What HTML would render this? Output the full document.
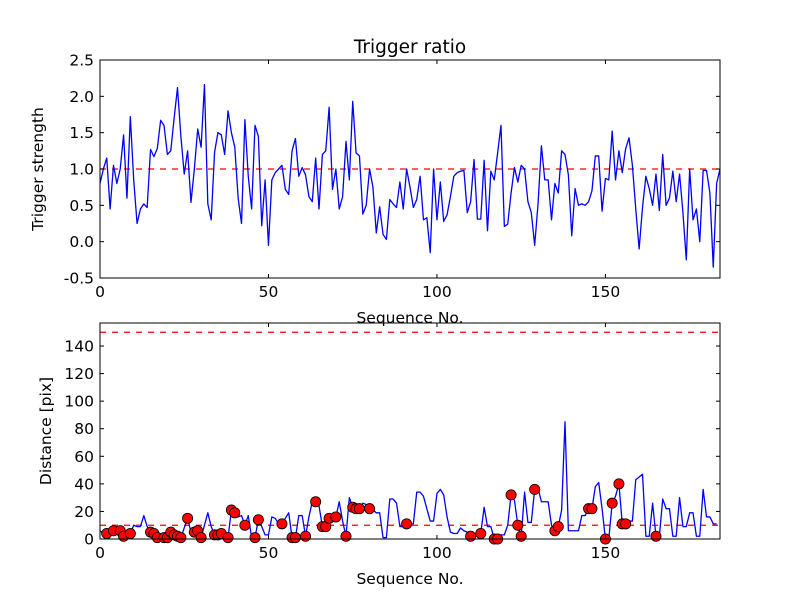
<!DOCTYPE html>
<html><head><meta charset="utf-8"><style>
body{margin:0;background:#fff;}
svg{display:block;font-family:"DejaVu Sans","Liberation Sans",sans-serif;}
</style></head><body>
<svg id="chart" width="800" height="600" viewBox="0 0 800 600"></svg>
<script>
const strength = [0.8,1.0,1.15,0.45,1.05,0.8,1.0,1.47,0.6,1.72,0.85,0.25,0.45,0.52,0.47,1.27,1.17,1.28,1.67,1.6,1.2,1.25,1.7,2.12,1.45,0.93,1.25,0.54,1.0,1.55,1.3,2.16,0.52,0.3,1.23,1.5,1.47,1.2,1.8,1.5,1.3,0.6,0.25,1.68,0.9,0.45,1.6,1.45,0.22,0.85,-0.05,0.85,0.95,1.0,1.05,0.72,0.65,1.25,1.42,0.9,1.02,0.92,0.62,0.55,1.15,0.45,1.2,1.25,1.85,0.72,1.0,0.45,0.62,1.38,0.85,1.93,1.22,1.18,0.38,0.5,1.0,0.75,0.12,0.48,0.1,0.03,0.58,0.52,0.47,0.82,0.45,1.0,0.75,0.47,0.58,0.9,0.3,0.33,-0.15,1.0,0.3,0.82,0.28,0.37,0.62,0.9,0.95,0.97,0.98,0.4,0.55,1.13,0.31,0.31,1.12,0.15,0.97,0.85,1.22,1.6,0.21,0.24,0.67,1.02,0.82,1.05,1.0,0.55,0.4,-0.05,0.52,1.32,0.85,0.85,0.3,0.8,0.67,1.25,1.2,0.92,0.08,0.73,0.5,0.52,0.5,0.55,0.7,1.18,1.18,0.42,0.87,0.85,1.52,0.85,1.25,0.95,1.28,1.43,1.05,0.45,-0.1,0.47,0.9,0.73,0.5,0.93,0.43,1.2,0.5,0.6,0.97,0.55,0.93,0.4,-0.25,1.0,0.3,0.45,0.0,0.98,0.98,0.67,-0.35,0.8,1.0];
const distance = [6,4,4,5,6,9,6,2,4,4,10,9,9,17,9,5,4,1,1,1,1,5,3,2,1,8,15,5,5,6,1,10,19,9,3,3,4,1,1,21,19,16,17,10,17,1,1,14,9,3,3,16,15,11,11,15,19,1,1,17,17,2,16,27,27,24,9,9,15,16,16,27,13,2,30,23,22,22,26,25,22,21,19,19,1,1,29,29,26,9,9,11,11,11,34,34,31,22,13,13,33,36,32,16,5,4,4,8,6,5,2,4,3,4,23,9,9,0,0,3,3,10,32,28,10,2,34,12,12,36,37,27,27,27,10,6,9,21,85,6,6,6,6,17,17,22,22,38,41,22,0,0,26,31,40,11,11,13,13,43,45,47,2,2,26,2,2,29,22,22,2,2,30,9,9,19,19,2,2,36,16,16,11,11];
const markerIdx = [2,4,6,7,9,15,16,17,19,20,21,22,23,24,26,28,29,30,34,35,36,38,39,40,43,46,47,54,57,58,61,64,66,67,68,70,73,75,76,77,80,91,110,113,117,118,122,124,125,129,135,136,145,146,150,152,154,155,156,165];
const xTicks = [0,50,100,150];
const topYTicks = [-0.5,0.0,0.5,1.0,1.5,2.0,2.5];
const botYTicks = [0,20,40,60,80,100,120,140];
const strengthThreshold = [1.0];
const distThresholds = [10,150];

const NS="http://www.w3.org/2000/svg";
const svg=document.getElementById('chart');
function mk(tag,attrs,parent){const e=document.createElementNS(NS,tag);for(const k in attrs)e.setAttribute(k,attrs[k]);(parent||svg).appendChild(e);return e;}
const XMAX=184, L=100, R=720;
const xs=v=>L+(v/XMAX)*(R-L);
function panel(top,bottom,ymin,ymax,yt,fmt,name){
  const ys=v=>bottom-(v-ymin)/(ymax-ymin)*(bottom-top);
  const g=mk('g',{});
  
  
  return {ys,g,top,bottom,yt,fmt};
}
function axes(p){
  const g=p.g;
  const frame=mk('rect',{x:L,y:p.top,width:R-L,height:p.bottom-p.top,fill:'none',stroke:'#000','stroke-width':1},g);
  
  
  xTicks.forEach(t=>{
    const x=xs(t);
    mk('line',{x1:x,x2:x,y1:p.bottom,y2:p.bottom-4,stroke:'#000'},g);
    mk('line',{x1:x,x2:x,y1:p.top,y2:p.top+4,stroke:'#000'},g);
    const tx=mk('text',{x:x,y:p.bottom+19,'text-anchor':'middle','font-size':15.5},g);
    tx.textContent=t;
    
    
  });
  p.yt.forEach(t=>{
    const y=p.ys(t);
    mk('line',{x1:L,x2:L+4,y1:y,y2:y,stroke:'#000'},g);
    mk('line',{x1:R,x2:R-4,y1:y,y2:y,stroke:'#000'},g);
    const tx=mk('text',{x:L-6,y:y+5.5,'text-anchor':'end','font-size':15.5},g);
    tx.textContent=p.fmt(t);
    
    
  });
}
function line(p,arr,name){
  const d=arr.map((v,i)=>(i?'L':'M')+xs(i).toFixed(2)+','+p.ys(v).toFixed(2)).join('');
  const e=mk('path',{d:d,fill:'none',stroke:'#0000ff','stroke-width':1.3,'stroke-linejoin':'round'},p.g);
  
  
}
function hline(p,v,name){
  const y=p.ys(v);
  const e=mk('line',{x1:L,x2:R,y1:y,y2:y,stroke:'#ff0000','stroke-width':1.2,'stroke-dasharray':'6,6'},p.g);
  
  
}
const p1=panel(60,278,-0.5,2.5,topYTicks,t=>t.toFixed(1),'strength-panel');
const clip1=mk('clipPath',{id:'c1'});mk('rect',{x:L,y:60,width:R-L,height:218},clip1);
const p1g=p1.g; const inner1=mk('g',{'clip-path':'url(#c1)'},p1g); p1.g=inner1;
strengthThreshold.forEach(v=>hline(p1,v,'strength-threshold-line'));
line(p1,strength,'trigger-strength-line');
p1.g=p1g; axes(p1);
const p2=panel(323,539,0,156.7,botYTicks,t=>String(t),'distance-panel');
const clip2=mk('clipPath',{id:'c2'});mk('rect',{x:L,y:323,width:R-L,height:216},clip2);
const p2g=p2.g; const inner2=mk('g',{'clip-path':'url(#c2)'},p2g); p2.g=inner2;
distThresholds.forEach(v=>hline(p2,v,'distance-threshold-line'));
line(p2,distance,'distance-line');
p2.g=p2g;
markerIdx.forEach(i=>{
  const c=mk('circle',{cx:xs(i),cy:p2.ys(distance[i]),r:5.1,fill:'#ff0000',stroke:'#000','stroke-width':0.8},p2g);
  
  
});
axes(p2);
function label(txt,attrs,name){const t=mk('text',attrs);t.textContent=txt;}
label('Trigger ratio',{x:410,y:53,'text-anchor':'middle','font-size':18.5},'chart-title');
label('Sequence No.',{x:410,y:323,'text-anchor':'middle','font-size':15.5},'top-x-axis-title');
label('Sequence No.',{x:410,y:584,'text-anchor':'middle','font-size':15.5},'bottom-x-axis-title');
label('Trigger strength',{x:0,y:0,'text-anchor':'middle','font-size':15.5,transform:'translate(43,169) rotate(-90)'},'top-y-axis-title');
label('Distance [pix]',{x:0,y:0,'text-anchor':'middle','font-size':15.5,transform:'translate(51,431) rotate(-90)'},'bottom-y-axis-title');
</script>
</body></html>
